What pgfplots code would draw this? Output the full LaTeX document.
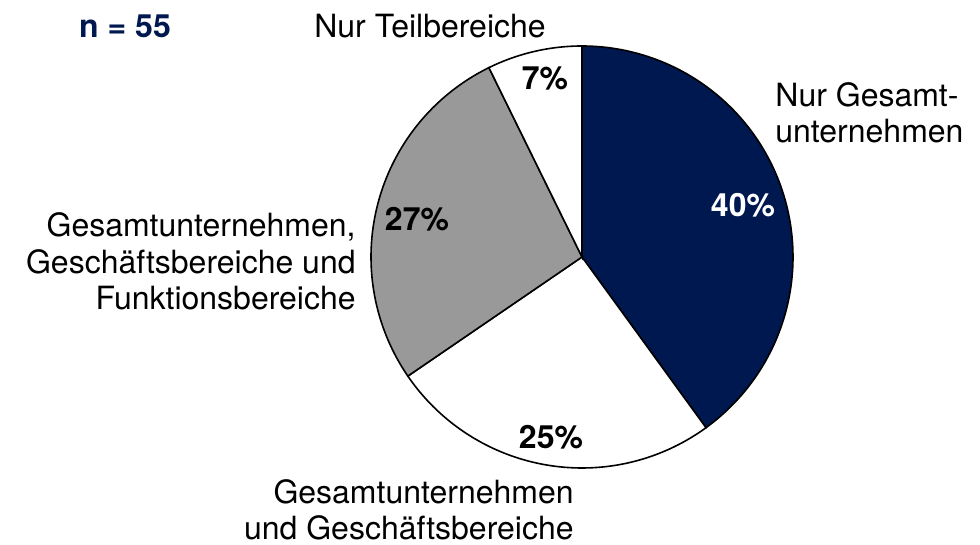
\documentclass[border=0pt]{standalone}
\usepackage{pgfplots}
\pgfplotsset{compat=1.18}
\usepackage{fontspec}
\setmainfont{TeX Gyre Heros}
\definecolor{navy}{RGB}{0,24,80}
\definecolor{pgray}{RGB}{153,153,153}
\newcommand{\lf}{\fontsize{16}{18.4}\selectfont}
\begin{document}
\begin{tikzpicture}
\begin{axis}[
  width=490pt, height=272.5pt, scale only axis,
  xmin=0, xmax=980, ymin=0, ymax=545,
  axis lines=none, ticks=none, clip=false,
]
% invisible frame so the page has the full chart size
\addplot[draw=none, forget plot] coordinates {(0,0) (980,545)};
% counts (n = 55): Nur Gesamtunternehmen 22, Ges.+Geschaeftsb. 14, Ges.+Geschaeftsb.+Funktionsb. 15, Nur Teilbereiche 4
\addplot[fill=navy, draw=black, line width=0.8pt, domain={90-360*22/55}:{90}, samples=120]
  ({582+211*cos(x)},{288+211*sin(x)}) -- (axis cs:582,288) -- cycle;
\addplot[fill=white, draw=black, line width=0.8pt, domain={90-360*(22+14)/55}:{90-360*22/55}, samples=120]
  ({582+211*cos(x)},{288+211*sin(x)}) -- (axis cs:582,288) -- cycle;
\addplot[fill=pgray, draw=black, line width=0.8pt, domain={90-360*(22+14+15)/55}:{90-360*(22+14)/55}, samples=120]
  ({582+211*cos(x)},{288+211*sin(x)}) -- (axis cs:582,288) -- cycle;
\addplot[fill=white, draw=black, line width=0.8pt, domain={90-360*(22+14+15+4)/55}:{90-360*(22+14+15)/55}, samples=60]
  ({582+211*cos(x)},{288+211*sin(x)}) -- (axis cs:582,288) -- cycle;

\node[font=\lf\bfseries, text=navy, anchor=base] at (axis cs:125,507) {n = 55};
\node[font=\lf, anchor=base] at (axis cs:430,507) {Nur Teilbereiche};
\node[font=\lf, anchor=base west, align=left, inner sep=0pt] at (axis cs:775,402) {Nur Gesamt-\\unternehmen};
\node[font=\lf, anchor=base east, align=right, inner sep=0pt] at (axis cs:356,235) {Gesamtunternehmen,\\Geschäftsbereiche und\hspace*{0.28em}\\Funktionsbereiche};
\node[font=\lf, anchor=base east, align=right, inner sep=0pt] at (axis cs:574,5) {Gesamtunternehmen\\und Geschäftsbereiche};

\node[font=\lf\bfseries, text=white] at (axis cs:743,340) {40\%};
\node[font=\lf\bfseries] at (axis cs:545,467) {7\%};
\node[font=\lf\bfseries] at (axis cs:417,326) {27\%};
\node[font=\lf\bfseries] at (axis cs:551,108) {25\%};
\end{axis}
\end{tikzpicture}
\end{document}
